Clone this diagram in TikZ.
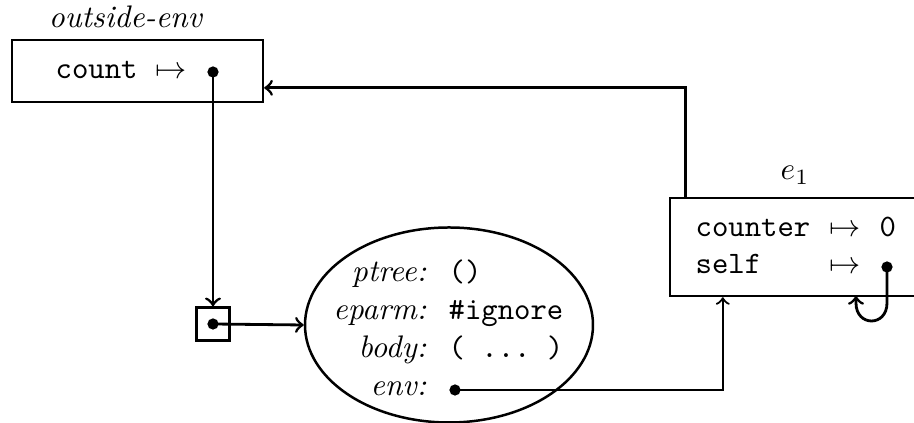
\documentclass[tikz,border=0pt]{standalone}
\usetikzlibrary{shapes.geometric}
\begin{document}
\begin{tikzpicture}[x=0.3205pt,y=-0.3205pt,
  envbox/.style={draw,line width=0.8pt,inner sep=0pt},
  link/.style={line width=0.9pt,->},
  txt/.style={inner sep=0pt}]
\useasboundingbox (0,0) rectangle (914,423);
\clip (0,0) rectangle (914,423);
% outside environment
\node [txt] (outlbl) at (126,17) {\textit{outside-env}};
\node [envbox,minimum width=80.4pt,minimum height=19.9pt] (outenv) at (137.5,71) {};
\node [txt,anchor=base west] (count) at (55,79) {\texttt{count}};
\node [txt,anchor=base west] (map0) at (155,79) {$\mapsto$};
\fill (213,72) coordinate (cdot) circle (1.8pt);
% cell
\node [envbox,minimum width=10.6pt,minimum height=10.6pt] (cell) at (213,324) {};
\fill (cell.center) circle (1.8pt);
% closure
\node [draw,ellipse,line width=0.8pt,minimum width=92.3pt,minimum height=62.5pt] (clo) at (449,325) {};
\node [txt,anchor=base east] (ptree) at (427,282) {\textit{ptree:}};
\node [txt,anchor=base east] (eparm) at (427,320) {\textit{eparm:}};
\node [txt,anchor=base east] (body) at (427,358) {\textit{body:}};
\node [txt,anchor=base east] (env) at (427,396) {\textit{env:}};
\node [txt,anchor=base west] (ptreev) at (448,282) {\texttt{()}};
\node [txt,anchor=base west] (eparmv) at (448,320) {\texttt{\#ignore}};
\node [txt,anchor=base west] (bodyv) at (448,358) {\texttt{(\ ...\ )}};
\fill (455,390) coordinate (edot) circle (1.8pt);
% e1
\node [txt] (e1lbl) at (795,175) {$e_1$};
\node [envbox,minimum width=89.7pt,minimum height=31.4pt] (e1) at (810,247) {};
\node [txt,anchor=base west] (counter) at (695,237) {\texttt{counter}};
\node [txt,anchor=base west] (self) at (695,274) {\texttt{self}};
\node [txt,anchor=base west] (map1) at (829,237) {$\mapsto$};
\node [txt,anchor=base west] (map2) at (829,274) {$\mapsto$};
\node [txt,anchor=base west] (zero) at (879,237) {\texttt{0}};
\fill (887,267) coordinate (sdot) circle (1.8pt);
% links
\draw [link] (cdot) -- (cell.north);
\draw [link] (cell.center) -- (clo.west);
\draw [link,line width=0.7pt] (edot) -| ([xshift=17.3pt]e1.south west);
\draw [link] ([xshift=5.4pt]e1.north west) |- ([yshift=-5.4pt]outenv.east);
\draw [link] (sdot) -- (887,303) .. controls (887,327) and (856,327) .. (856,303) -- (856,296);
\end{tikzpicture}
\end{document}
